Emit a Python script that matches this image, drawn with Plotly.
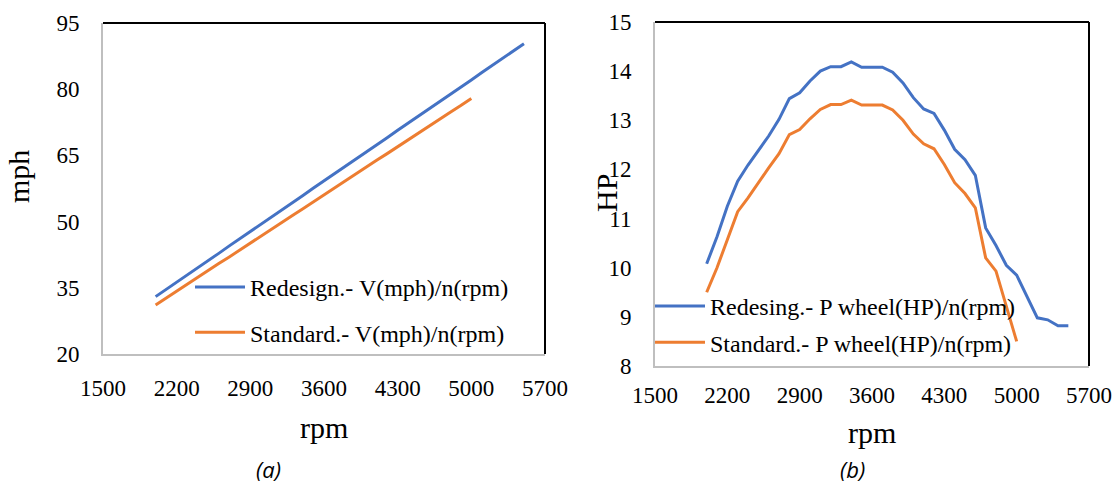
import plotly.graph_objects as go

# ---------------- data ----------------
rpm_redesign_v = [2000, 2100, 2200, 2300, 2400, 2500, 2600, 2700, 2800, 2900,
                  3000, 3100, 3200, 3300, 3400, 3500, 3600, 3700, 3800, 3900,
                  4000, 4100, 4200, 4300, 4400, 4500, 4600, 4700, 4800, 4900,
                  5000, 5100, 5200, 5300, 5400, 5500]
mph_redesign = [33.0, 34.6, 36.3, 37.9, 39.5, 41.2, 42.8, 44.5, 46.1, 47.7,
                49.4, 51.0, 52.6, 54.3, 55.9, 57.6, 59.2, 60.8, 62.5, 64.1,
                65.7, 67.4, 69.0, 70.7, 72.3, 73.9, 75.6, 77.2, 78.8, 80.5,
                82.1, 83.8, 85.4, 87.0, 88.7, 90.3]

rpm_standard_v = [2000, 2100, 2200, 2300, 2400, 2500, 2600, 2700, 2800, 2900,
                  3000, 3100, 3200, 3300, 3400, 3500, 3600, 3700, 3800, 3900,
                  4000, 4100, 4200, 4300, 4400, 4500, 4600, 4700, 4800, 4900,
                  5000]
mph_standard = [31.1, 32.7, 34.2, 35.8, 37.3, 38.9, 40.5, 42.0, 43.6, 45.1,
                46.7, 48.3, 49.8, 51.4, 52.9, 54.5, 56.1, 57.6, 59.2, 60.7,
                62.3, 63.9, 65.4, 67.0, 68.5, 70.1, 71.7, 73.2, 74.8, 76.3,
                77.9]

rpm_redesign_p = rpm_redesign_v
hp_redesign = [10.08, 10.63, 11.25, 11.76, 12.09, 12.39, 12.68, 13.02, 13.44, 13.56,
               13.80, 14.00, 14.09, 14.09, 14.19, 14.08, 14.08, 14.08, 13.98, 13.76,
               13.46, 13.23, 13.14, 12.80, 12.41, 12.20, 11.88, 10.81, 10.45, 10.05,
               9.85, 9.42, 8.98, 8.94, 8.82, 8.82]

rpm_standard_p = rpm_standard_v
hp_standard = [9.50, 10.00, 10.57, 11.14, 11.42, 11.73, 12.03, 12.32, 12.71, 12.81,
               13.03, 13.22, 13.32, 13.32, 13.41, 13.31, 13.31, 13.31, 13.21, 13.00,
               12.72, 12.52, 12.42, 12.10, 11.73, 11.51, 11.22, 10.20, 9.93, 9.20,
               8.50]

x_ticks = [1500, 2200, 2900, 3600, 4300, 5000, 5700]
mph_ticks = [20, 35, 50, 65, 80, 95]
hp_ticks = [8, 9, 10, 11, 12, 13, 14, 15]

names_left = ["Redesign.- V(mph)/n(rpm)", "Standard.- V(mph)/n(rpm)"]
names_right = ["Redesing.- P wheel(HP)/n(rpm)", "Standard.- P wheel(HP)/n(rpm)"]

# ---------------- style ----------------
W, H = 1117, 485
BLUE = "#4472C4"
ORANGE = "#ED7D31"
SERIF = "Liberation Serif, Times New Roman, serif"
AX_GRAY = "#BFBFBF"


def px_x(p):
    return p / W


def px_y(p):
    return 1 - p / H


fig = go.Figure()

fig.add_trace(go.Scatter(x=rpm_redesign_v, y=mph_redesign, mode="lines",
                         name=names_left[0], line=dict(color=BLUE, width=3),
                         xaxis="x", yaxis="y", legend="legend", legendgroup="a1"))
fig.add_trace(go.Scatter(x=rpm_standard_v, y=mph_standard, mode="lines",
                         name=names_left[1], line=dict(color=ORANGE, width=3),
                         xaxis="x", yaxis="y", legend="legend", legendgroup="a2"))
fig.add_trace(go.Scatter(x=rpm_redesign_p, y=hp_redesign, mode="lines",
                         name=names_right[0], line=dict(color=BLUE, width=3),
                         xaxis="x2", yaxis="y2", legend="legend2", legendgroup="b1"))
fig.add_trace(go.Scatter(x=rpm_standard_p, y=hp_standard, mode="lines",
                         name=names_right[1], line=dict(color=ORANGE, width=3),
                         xaxis="x2", yaxis="y2", legend="legend2", legendgroup="b2"))

xcommon = dict(range=[1500, 5700], tickvals=x_ticks, showgrid=False, zeroline=False,
               showline=True, linecolor=AX_GRAY, linewidth=2, ticks="",
               automargin=False,
               tickfont=dict(family=SERIF, size=23, color="black"))
ycommon = dict(showgrid=False, zeroline=False, showline=True, linecolor=AX_GRAY,
               linewidth=2, ticks="", ticklabelstandoff=17, automargin=False,
               tickfont=dict(family=SERIF, size=23, color="black"))

fig.update_layout(
    width=W, height=H,
    margin=dict(l=0, r=0, t=0, b=0, pad=0, autoexpand=False),
    paper_bgcolor="white", plot_bgcolor="white",
    showlegend=True,
    xaxis=dict(domain=[px_x(103), px_x(545)], anchor="y", ticklabelstandoff=12, **xcommon),
    yaxis=dict(domain=[px_y(354), px_y(23)], anchor="x", range=[20, 95],
               tickvals=mph_ticks, **ycommon),
    xaxis2=dict(domain=[px_x(655), px_x(1089)], anchor="y2", ticklabelstandoff=7, **xcommon),
    yaxis2=dict(domain=[px_y(366), px_y(22)], anchor="x2", range=[8, 15],
                tickvals=hp_ticks, **ycommon),
    legend=dict(x=px_x(190), y=px_y(265), xanchor="left", yanchor="top",
                bgcolor="rgba(0,0,0,0)", borderwidth=0, tracegroupgap=11,
                itemwidth=50,
                font=dict(family=SERIF, size=24, color="black")),
    legend2=dict(x=px_x(650), y=px_y(284), xanchor="left", yanchor="top",
                 bgcolor="rgba(0,0,0,0)", borderwidth=0, tracegroupgap=2,
                 itemwidth=50,
                 font=dict(family=SERIF, size=24, color="black")),
)

# black plot-area border on top and right sides
for xr, yr in (("x domain", "y domain"), ("x2 domain", "y2 domain")):
    fig.add_shape(type="line", xref=xr, yref=yr, x0=0, x1=1, y0=1, y1=1,
                  line=dict(color="black", width=2))
    fig.add_shape(type="line", xref=xr, yref=yr, x0=1, x1=1, y0=0, y1=1,
                  line=dict(color="black", width=2))

# axis titles and captions
ann = [
    dict(text="rpm", x=px_x(324), y=px_y(427), size=30, family=SERIF, angle=0, italic=False),
    dict(text="mph", x=px_x(18), y=px_y(177), size=30, family=SERIF, angle=-90, italic=False),
    dict(text="rpm", x=px_x(872), y=px_y(432), size=30, family=SERIF, angle=0, italic=False),
    dict(text="HP", x=px_x(607), y=px_y(193), size=30, family=SERIF, angle=-90, italic=False),
    dict(text="(a)", x=px_x(268), y=px_y(469), size=22, family="Open Sans, sans-serif", angle=0, italic=True),
    dict(text="(b)", x=px_x(852), y=px_y(469), size=22, family="Open Sans, sans-serif", angle=0, italic=True),
]
for a in ann:
    fig.add_annotation(text=a["text"], x=a["x"], y=a["y"], xref="paper", yref="paper",
                       xanchor="center", yanchor="middle", showarrow=False,
                       textangle=a["angle"],
                       font=dict(family=a["family"], size=a["size"], color="black",
                                 style="italic" if a["italic"] else "normal"))

fig.write_html("out.html", config={"displayModeBar": False},
               post_script="document.body.style.margin='0';document.body.style.overflow='hidden';")
